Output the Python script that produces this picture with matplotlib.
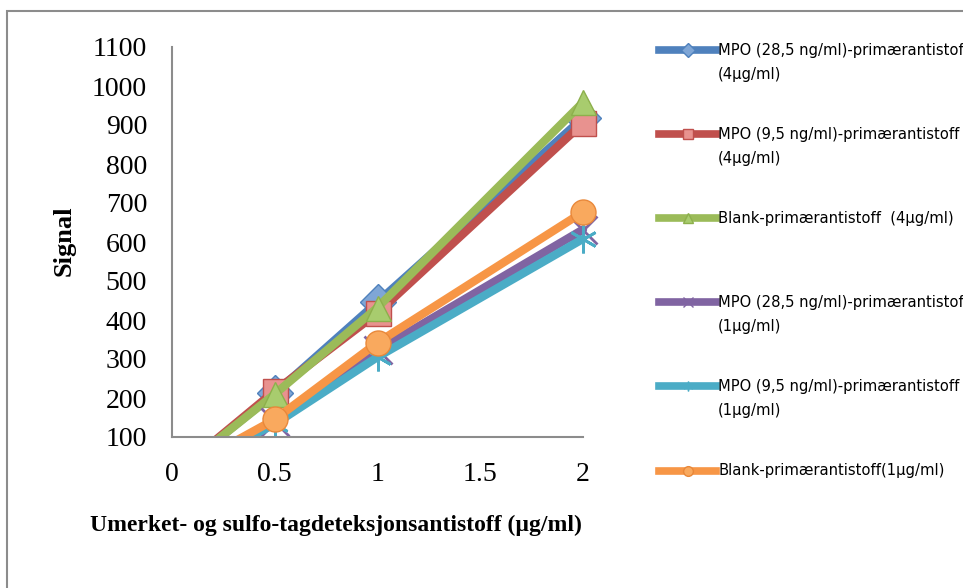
import matplotlib
matplotlib.use("Agg")
import matplotlib.pyplot as plt
from matplotlib import font_manager
from matplotlib.lines import Line2D
from matplotlib.patches import Rectangle

# konsentrasjon av deteksjonsantistoff (µg/ml)
conc = [0, 0.5, 1, 2]

# signal per serie
mpo285_4 = [0, 212, 446, 918]
mpo95_4 = [0, 218, 418, 905]
blank_4 = [0, 210, 432, 958]
mpo285_1 = [0, 138, 322, 632]
mpo95_1 = [0, 133, 305, 608]
blank_1 = [0, 145, 342, 677]

labels = [
    "MPO (28,5 ng/ml)-primærantistoff\n(4µg/ml)",
    "MPO (9,5 ng/ml)-primærantistoff\n(4µg/ml)",
    "Blank-primærantistoff  (4µg/ml)\n ",
    "MPO (28,5 ng/ml)-primærantistoff\n(1µg/ml)",
    "MPO (9,5 ng/ml)-primærantistoff\n(1µg/ml)",
    "Blank-primærantistoff(1µg/ml)\n ",
]

# (linjefarge, markør, fyllfarge, kantfarge)
styles = [
    ("#4F81BD", "D", "#7FA6D6", "#4F81BD"),
    ("#C0504D", "s", "#E8928F", "#C0504D"),
    ("#9BBB59", "^", "#A8CC6E", "#8DB04C"),
    ("#8064A2", "x", "#8064A2", "#8064A2"),
    ("#4BACC6", (6, 2, 0), "#4BACC6", "#4BACC6"),
    ("#F79646", "o", "#F9A95E", "#E9883A"),
]

series = [mpo285_4, mpo95_4, blank_4, mpo285_1, mpo95_1, blank_1]


def narrow_font(size):
    # smal skrift til forklaringen, hvis en finnes
    cands = []
    for f in font_manager.fontManager.ttflist:
        fn = f.fname
        if f.style != "normal" or f.weight not in (400, "normal", "regular"):
            continue
        if "Narrow" in fn or "Condensed" in fn:
            rank = 0 if "Liberation" in fn else 1
            cands.append((rank, fn))
    if cands:
        cands.sort()
        return font_manager.FontProperties(fname=cands[0][1], size=size)
    return font_manager.FontProperties(family="DejaVu Sans", size=size - 2)


W, H = 963, 588
fig = plt.figure(figsize=(W / 100, H / 100), dpi=100)

# ramme rundt hele diagrammet
fig.add_artist(Rectangle((7 / W, -0.2), 2, 1.2 - 11 / H, transform=fig.transFigure,
                         fill=False, edgecolor="#8c8c8c", linewidth=1.5))

ax = fig.add_axes([172 / W, 1 - 437 / H, (583 - 172) / W, (437 - 47) / H])
ax.set_xlim(0, 2)
ax.set_ylim(100, 1100)

clip = Rectangle((0, 100), 2.5, 1500, transform=ax.transData)
for ys, (c, m, fc, ec) in zip(series, styles):
    thin = m in ("x", (6, 2, 0))
    ln, = ax.plot(conc, ys, color=c, lw=6, marker=m, ms=20 if thin else 18,
                  mfc=fc, mec=ec, mew=2 if thin else 1,
                  solid_capstyle="round", solid_joinstyle="round")
    ln.set_clip_path(clip)

for s in ["top", "right"]:
    ax.spines[s].set_visible(False)
for s in ["left", "bottom"]:
    ax.spines[s].set_color("#8c8c8c")
    ax.spines[s].set_linewidth(1.5)

serif = "Liberation Serif"
ax.set_xticks([0, 0.5, 1, 1.5, 2])
ax.set_xticklabels(["0", "0.5", "1", "1.5", "2"])
ax.set_yticks(range(100, 1101, 100))
ax.tick_params(length=0, pad=18, labelsize=20)
for t in ax.get_xticklabels() + ax.get_yticklabels():
    t.set_family(serif)

fig.text(64 / W, 1 - 241 / H, "Signal", rotation=90, ha="center", va="center",
         family=serif, weight="bold", fontsize=19)
fig.text(90 / W, 1 - 525 / H, "Umerket- og sulfo-tagdeteksjonsantistoff (µg/ml)",
         ha="left", va="center", family=serif, weight="bold", fontsize=17)

handles = [Line2D([], [], color=c, lw=5.5, marker=m, ms=7, mfc=fc, mec=ec)
           for c, m, fc, ec in styles]
leg = fig.legend(handles, labels, loc="upper left", bbox_to_anchor=(659 / W, 1 - 43 / H),
                 frameon=False, borderpad=0, borderaxespad=0, handlelength=3.5,
                 handletextpad=0.1, handleheight=1.3, labelspacing=2.75,
                 prop=narrow_font(11.8))
for t in leg.get_texts():
    t.set_linespacing(1.75)
# strek og symbol på høyde med første tekstlinje
for col in leg._legend_handle_box.get_children():
    for item in col.get_children():
        item.align = "top"

fig.savefig("out.png", dpi=100)
